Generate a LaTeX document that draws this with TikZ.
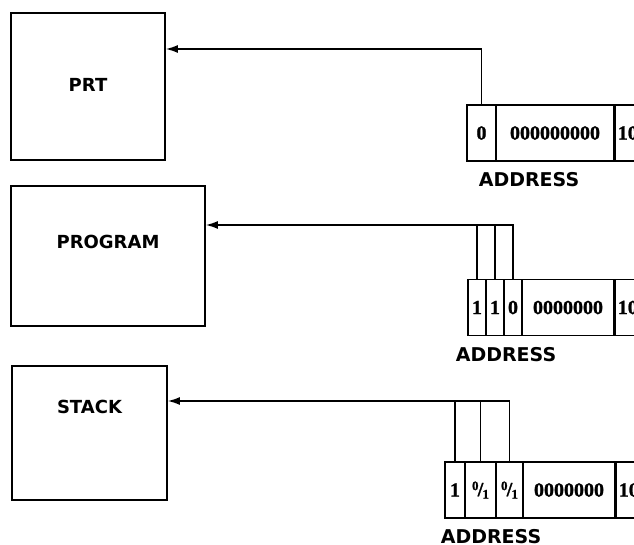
\documentclass[tikz,border=0pt]{standalone}
\usepackage{fontspec}
\setmainfont{DejaVu Sans}
\newfontfamily\digitfont{Liberation Serif}[BoldFeatures={FakeBold=1.2}]
\usetikzlibrary{arrows.meta}

\newcommand{\zeroone}{\raisebox{.3em}{\fontsize{13}{13}\selectfont 0}\kern-.04em/\kern-.04em\raisebox{-.12em}{\fontsize{13}{13}\selectfont 1}}

\begin{document}
\begin{tikzpicture}[
  x=1pt, y=-1pt,
  block/.style={
    draw,
    line width=1.8pt,
    inner sep=0pt
  },
  blocklabel/.style={
    font=\fontsize{18}{22}\selectfont\bfseries
  },
  cell/.style={
    draw,
    line width=1.6pt,
    minimum height=56pt,
    inner sep=0pt,
    font=\digitfont\fontsize{20}{22}\selectfont\bfseries
  },
  tail/.style={
    cell,
    anchor=west,
    minimum width=60pt,
    text width=56pt,
    align=left
  },
  wire/.style={
    line width=1.4pt
  },
  edge/.style={
    wire,
    -{Latex[length=12pt,width=8pt]}
  },
  reglabel/.style={
    font=\fontsize{19}{22}\selectfont\bfseries
  }
]

\clip (0,0) rectangle (634,545);
\path[use as bounding box] (0,0) rectangle (634,545);

% memory areas
\node[block, minimum width=154pt, minimum height=147pt] (prt) at (88,86.5) {};
\node[block, minimum width=194pt, minimum height=140pt] (prog) at (108,256) {};
\node[block, minimum width=155pt, minimum height=134pt] (stack) at (89.5,433) {};

\node[blocklabel] (prtlbl) at (88,85) {PRT};
\node[blocklabel] (proglbl) at (108,242) {PROGRAM};
\node[blocklabel] (stacklbl) at (89.5,407) {STACK};

% first word
\node[cell, minimum width=29pt] (c1a) at (481.5,133) {0};
\node[cell, minimum width=118pt] (c1b) at (555,133) {000000000};
\node[tail] (c1c) at (614,133) {\kern1pt 10};
\node[reglabel] (addr1) at (529,180) {ADDRESS};

% second word
\node[cell, minimum width=18pt] (c2a) at (477,307.5) {1};
\node[cell, minimum width=18pt] (c2b) at (495,307.5) {1};
\node[cell, minimum width=18pt] (c2c) at (513,307.5) {0};
\node[cell, minimum width=92pt] (c2d) at (568,307.5) {0000000};
\node[tail] (c2e) at (614,307.5) {\kern1pt 10};
\node[reglabel] (addr2) at (506,355) {ADDRESS};

% third word
\node[cell, minimum width=20pt] (c3a) at (455,490) {1};
\node[cell, minimum width=31pt] (c3b) at (480.5,490) {\zeroone};
\node[cell, minimum width=27pt] (c3c) at (509.5,490) {\zeroone};
\node[cell, minimum width=92pt] (c3d) at (569,490) {0000000};
\node[tail] (c3e) at (615,490) {\kern1pt 10};
\node[reglabel] (addr3) at (491,537) {ADDRESS};

% bus levels
\coordinate (h1) at (0,49);
\coordinate (h2) at (0,225);
\coordinate (h3) at (0,401);

\draw[edge] (c1a.north) |- (prt.east |- h1);

\draw[wire] (c2a.north) -- (c2a.north |- h2) -- (c2c.north |- h2);
\draw[wire] (c2b.north) -- (c2b.north |- h2);
\draw[edge] (c2c.north) |- (prog.east |- h2);

\draw[wire] (c3a.north) -- (c3a.north |- h3) -- (c3c.north |- h3);
\draw[wire] (c3b.north) -- (c3b.north |- h3);
\draw[edge] (c3c.north) |- (stack.east |- h3);

\end{tikzpicture}
\end{document}
